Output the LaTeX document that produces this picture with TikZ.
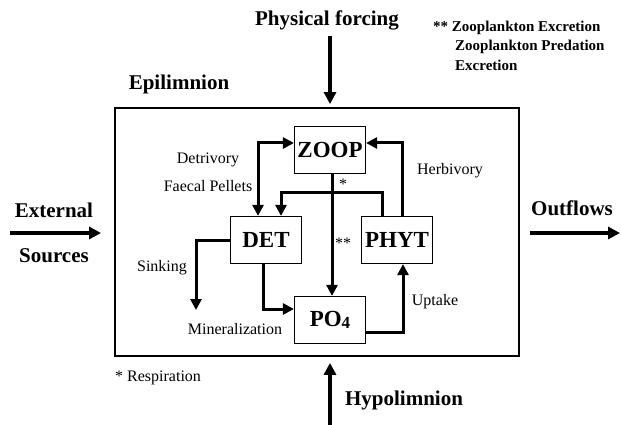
\documentclass[tikz,border=0pt]{standalone}
\usepackage{fontspec}
\setmainfont{Liberation Serif}
\usepackage{tikz}
\usetikzlibrary{arrows.meta, positioning}

\begin{document}
\begin{tikzpicture}[x=1pt, y=-1pt,
                box/.style={draw,line width=1.2pt,minimum width=71pt,minimum height=47pt,
                        inner sep=0pt,font=\fontsize{23}{23}\selectfont\bfseries},
                flow/.style={line width=3pt,-{Triangle[length=11pt,width=11pt]}},
                twoway/.style={line width=3pt,{Triangle[length=11pt,width=11pt]}-{Triangle[length=11pt,width=11pt]}},
                bigflow/.style={line width=3.2pt,-{Triangle[length=12pt,width=12pt]}},
                lbl/.style={inner sep=0pt,font=\fontsize{16}{16}\selectfont},
                big/.style={inner sep=0pt,font=\fontsize{21}{21}\selectfont\bfseries},
                note/.style={inner sep=0pt,align=left,font=\fontsize{15}{20}\selectfont\bfseries}]
        \useasboundingbox (0,0) rectangle (621,425);
        %----------------  lake  ----------------
        \node[draw,line width=1.8pt,minimum width=404pt,minimum height=248pt] (lake) at (317,232) {};
        \node[big] (epi) at (179,84) {Epilimnion};

        \node[box] (zoop) at (330,150) {ZOOP};
        \node[box] (det)  at (266,240) {DET};
        \node[box] (phyt) at (397,240) {PHYT};
        \node[box] (po4)  at (330,320) {PO{\raisebox{-2pt}{\fontsize{17}{17}\selectfont 4}}};
        \coordinate (sink) at (196,310);

        \draw[twoway] ([xshift=-8pt]det.north) |- ([yshift=7pt]zoop.west);
        \draw[flow] ([xshift=-15pt]phyt.north) -- ++(0,-23) -| ([xshift=15pt]det.north);
        \draw[flow] ([xshift=5pt]phyt.north) |- ([yshift=7pt]zoop.east);
        \draw[flow] ([xshift=2pt]zoop.south) -- ([xshift=2pt]po4.north);
        \draw[flow] (det.west) -| (sink);
        \draw[flow] ([xshift=-3pt]det.south) |- ([yshift=11pt]po4.west);
        \draw[flow] ([yshift=-12pt]po4.east) -| ([xshift=6pt]phyt.south);

        \node[lbl] at (208,160) {Detrivory};
        \node[lbl] at (208,186) {Faecal Pellets};
        \node[lbl] at (450,171) {Herbivory};
        \node[lbl] at (162,268) {Sinking};
        \node[lbl] at (235,329) {Mineralization};
        \node[lbl] at (435,302) {Uptake};
        \node[lbl] at (343,184) {*};
        \node[lbl] at (343,243) {**};

        %----------------  outside  ----------------
        \node[big] (phys) at (327,20) {Physical forcing};
        \node[big] (ext)  at (54,210) {External};
        \node[big] (src)  at (54,256) {Sources};
        \node[big] (outf) at (572,208) {Outflows};
        \node[big] (hypo) at (404,400) {Hypolimnion};
        \coordinate (inl)  at (10,233);
        \coordinate (outl) at (620,233);
        \coordinate (bot)  at (330,425);

        \draw[bigflow,shorten <=6pt,shorten >=3pt] (phys.south -| zoop) -- (zoop |- lake.north);
        \draw[bigflow,shorten >=13pt] (inl) -- (lake.west |- inl);
        \draw[bigflow,shorten <=10pt] (lake.east |- outl) -- (outl);
        \draw[bigflow,shorten >=6pt] (bot) -- (bot |- lake.south);

        \node[note,anchor=west] at (433,28) {** Zooplankton Excretion};
        \node[note,anchor=north west] at (455,40) {Zooplankton Predation\\Excretion};
        \node[lbl,anchor=west] at (115,378) {* Respiration};
\end{tikzpicture}
\end{document}
